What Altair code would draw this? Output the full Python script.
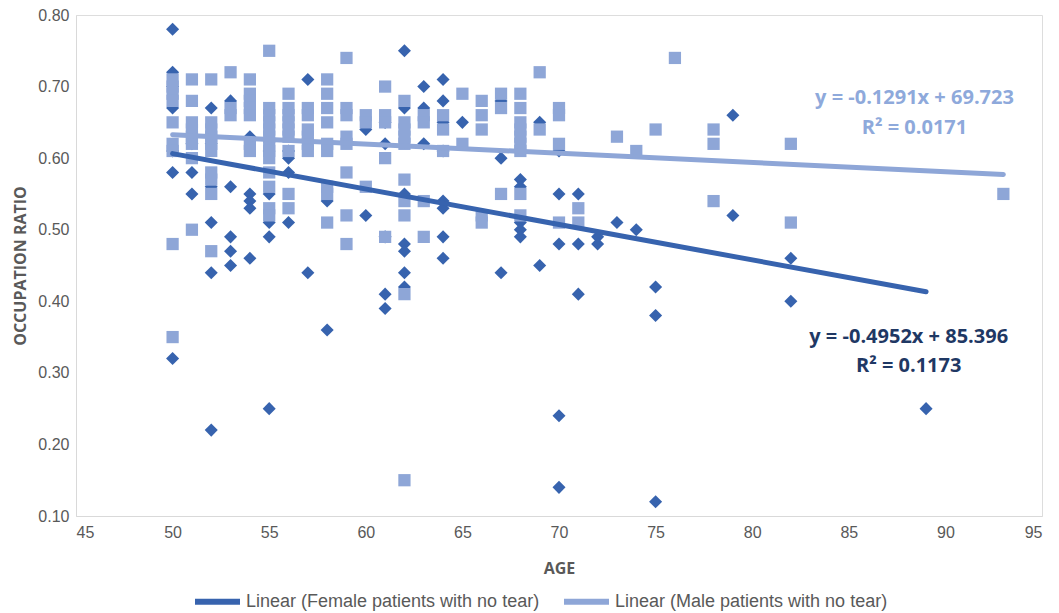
import altair as alt
import pandas as pd

# ---- data ----
female_age = [50, 50, 50, 50, 50, 50, 50,
              51, 51, 51,
              52, 52, 52, 52, 52, 52,
              53, 53, 53, 53, 53,
              54, 54, 54, 54, 54,
              55, 55, 55, 55, 55,
              56, 56, 56, 56,
              57, 57,
              58, 58,
              60, 60,
              61, 61, 61, 61, 61,
              62, 62, 62, 62, 62, 62, 62,
              63, 63, 63,
              64, 64, 64, 64, 64, 64, 64, 64,
              65,
              67, 67, 67,
              68, 68, 68, 68, 68,
              69, 69,
              70, 70, 70, 70, 70,
              71, 71, 71,
              72, 72,
              73, 74,
              75, 75, 75,
              79, 79,
              82, 82,
              89]
female_ratio = [0.78, 0.72, 0.70, 0.67, 0.61, 0.58, 0.32,
                0.62, 0.58, 0.55,
                0.67, 0.62, 0.56, 0.51, 0.44, 0.22,
                0.68, 0.56, 0.49, 0.47, 0.45,
                0.63, 0.55, 0.54, 0.53, 0.46,
                0.61, 0.55, 0.51, 0.49, 0.25,
                0.61, 0.60, 0.58, 0.51,
                0.71, 0.44,
                0.54, 0.36,
                0.64, 0.52,
                0.65, 0.62, 0.49, 0.41, 0.39,
                0.75, 0.67, 0.55, 0.48, 0.47, 0.44, 0.42,
                0.70, 0.67, 0.62,
                0.71, 0.68, 0.65, 0.61, 0.54, 0.53, 0.49, 0.46,
                0.65,
                0.68, 0.60, 0.44,
                0.57, 0.56, 0.51, 0.50, 0.49,
                0.65, 0.45,
                0.61, 0.55, 0.48, 0.24, 0.14,
                0.55, 0.48, 0.41,
                0.49, 0.48,
                0.51, 0.50,
                0.42, 0.38, 0.12,
                0.66, 0.52,
                0.46, 0.40,
                0.25]

male_age = [50, 50, 50, 50, 50, 50, 50, 50, 50,
            51, 51, 51, 51, 51, 51, 51, 51,
            52, 52, 52, 52, 52, 52, 52, 52, 52, 52,
            53, 53, 53,
            54, 54, 54, 54, 54, 54, 54,
            55, 55, 55, 55, 55, 55, 55, 55, 55, 55, 55, 55, 55,
            56, 56, 56, 56, 56, 56, 56, 56, 56,
            57, 57, 57, 57, 57, 57,
            58, 58, 58, 58, 58, 58, 58, 58, 58,
            59, 59, 59, 59, 59, 59, 59, 59,
            60, 60, 60,
            61, 61, 61, 61, 61,
            62, 62, 62, 62, 62, 62, 62, 62, 62, 62,
            63, 63, 63, 63,
            64, 64, 64,
            65, 65,
            66, 66, 66, 66, 66,
            67, 67, 67,
            68, 68, 68, 68, 68, 68, 68, 68, 68,
            69, 69,
            70, 70, 70, 70,
            71, 71,
            73, 74, 75, 76,
            78, 78, 78,
            82, 82,
            93]
male_ratio = [0.71, 0.70, 0.69, 0.68, 0.65, 0.62, 0.61, 0.48, 0.35,
              0.71, 0.68, 0.65, 0.64, 0.63, 0.62, 0.60, 0.50,
              0.71, 0.65, 0.64, 0.63, 0.62, 0.61, 0.58, 0.57, 0.55, 0.47,
              0.72, 0.67, 0.66,
              0.71, 0.69, 0.68, 0.67, 0.66, 0.62, 0.61,
              0.75, 0.67, 0.66, 0.65, 0.64, 0.63, 0.62, 0.61, 0.60, 0.58, 0.56, 0.53, 0.52,
              0.69, 0.67, 0.66, 0.65, 0.64, 0.63, 0.61, 0.55, 0.53,
              0.67, 0.66, 0.64, 0.63, 0.62, 0.61,
              0.71, 0.69, 0.67, 0.65, 0.62, 0.61, 0.56, 0.55, 0.51,
              0.74, 0.67, 0.66, 0.63, 0.62, 0.58, 0.52, 0.48,
              0.66, 0.65, 0.56,
              0.70, 0.66, 0.65, 0.60, 0.49,
              0.68, 0.65, 0.64, 0.63, 0.62, 0.57, 0.54, 0.52, 0.41, 0.15,
              0.66, 0.65, 0.54, 0.49,
              0.66, 0.64, 0.61,
              0.69, 0.62,
              0.68, 0.66, 0.64, 0.52, 0.51,
              0.69, 0.67, 0.55,
              0.69, 0.67, 0.65, 0.64, 0.63, 0.62, 0.61, 0.55, 0.52,
              0.72, 0.64,
              0.67, 0.66, 0.62, 0.51,
              0.53, 0.51,
              0.63, 0.61, 0.64, 0.74,
              0.64, 0.62, 0.54,
              0.62, 0.51,
              0.55]

# trendline equations printed on the chart (in percent)
series_names = ["Linear (Female patients with no tear)", "Linear (Male patients with no tear)"]
slopes = [-0.4952, -0.1291]
intercepts = [85.396, 69.723]
eq_labels = [["y = -0.4952x + 85.396", "R\u00b2 = 0.1173"],
             ["y = -0.1291x + 69.723", "R\u00b2 = 0.0171"]]
eq_age = [88.1, 88.4]
eq_ratio = [[0.350, 0.310], [0.684, 0.642]]

FEMALE_C = "#3763AE"
MALE_C = "#8EA6D7"
FEMALE_TXT = "#1F3864"
MALE_TXT = "#8EA9DB"
GREY = "#595959"
FONT = "Liberation Sans Narrow, Liberation Sans, sans-serif"

female_df = pd.DataFrame({"age": female_age, "ratio": female_ratio})
male_df = pd.DataFrame({"age": male_age, "ratio": male_ratio})

line_rows = []
for name, s, b, ages in zip(series_names, slopes, intercepts, [female_age, male_age]):
    for a in (min(ages), max(ages)):
        line_rows.append({"series": name, "age": a, "ratio": (s * a + b) / 100})
line_df = pd.DataFrame(line_rows)

text_rows = []
for i, c in enumerate([FEMALE_TXT, MALE_TXT]):
    for j in range(2):
        text_rows.append({"age": eq_age[i], "ratio": eq_ratio[i][j], "label": eq_labels[i][j], "col": c})
text_df = pd.DataFrame(text_rows)

xs = alt.Scale(domain=[45, 95], nice=False, zero=False)
ys = alt.Scale(domain=[0.10, 0.80], nice=False, zero=False)
xax = alt.Axis(title="AGE", values=list(range(45, 96, 5)), grid=False, ticks=False,
               domainColor="#D9D9D9", labelFont=FONT, labelFontSize=16, labelColor=GREY,
               labelPadding=8, titleFont="Open Sans", titleFontSize=16, titleFontWeight="bold",
               titleColor=GREY, titlePadding=20)
yax = alt.Axis(title="OCCUPATION RATIO", values=[0.1, 0.2, 0.3, 0.4, 0.5, 0.6, 0.7, 0.8],
               format=".2f", grid=False, ticks=False, domainColor="#D9D9D9",
               labelFont=FONT, labelFontSize=16, labelColor=GREY, labelPadding=7,
               titleFont="Open Sans", titleFontSize=16, titleFontWeight="bold",
               titleColor=GREY, titlePadding=9)

fem = alt.Chart(female_df).mark_point(shape="diamond", filled=True, size=170, opacity=1,
                                      color=FEMALE_C).encode(
    x=alt.X("age:Q", scale=xs, axis=xax),
    y=alt.Y("ratio:Q", scale=ys, axis=yax))

mal = alt.Chart(male_df).mark_point(shape="square", filled=True, size=150, opacity=1,
                                    color=MALE_C).encode(
    x=alt.X("age:Q", scale=xs),
    y=alt.Y("ratio:Q", scale=ys))

lines = alt.Chart(line_df).mark_line(strokeWidth=5, strokeCap="round").encode(
    x=alt.X("age:Q", scale=xs),
    y=alt.Y("ratio:Q", scale=ys),
    color=alt.Color("series:N",
                    scale=alt.Scale(domain=series_names, range=[FEMALE_C, MALE_C]),
                    legend=alt.Legend(title=None, orient="none", direction="horizontal",
                                      legendX=116, legendY=561,
                                      symbolType="stroke", symbolSize=2025,
                                      symbolStrokeWidth=6, labelFont=FONT,
                                      labelFontSize=18, labelColor=GREY, labelLimit=0,
                                      labelOffset=3, columnPadding=12)),
    order=alt.Order("series:N", sort="descending"),
    detail="series:N")

texts = alt.Chart(text_df).mark_text(fontSize=20, fontWeight="bold", font="Open Sans",
                                     align="center", baseline="middle").encode(
    x=alt.X("age:Q", scale=xs),
    y=alt.Y("ratio:Q", scale=ys),
    text="label:N",
    color=alt.Color("col:N", scale=None))

chart = alt.layer(fem, mal, lines, texts).properties(
    width=966, height=501,
    autosize=alt.AutoSizeParams(type="none"),
    padding={"left": 68, "top": 7, "right": 8, "bottom": 97},
).configure_view(stroke=None).configure(background="white")

chart.save("out.html", embed_options={"renderer": "svg", "actions": False})
